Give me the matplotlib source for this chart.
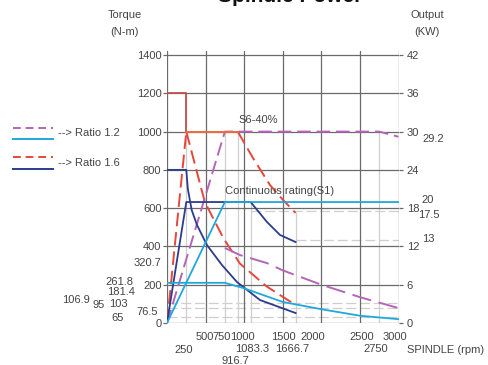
import matplotlib
matplotlib.use("Agg")
import matplotlib.pyplot as plt

plt.rcParams["font.family"] = ["Liberation Sans", "DejaVu Sans"]

W, H = 488, 365

# ratio 1.6, S6 (red dashed): torque and output
r16_s6_torque_rpm = [0, 250, 250]
r16_s6_torque_val = [1200, 1200, 1000]
r16_s6_fall_rpm = [250, 490, 730, 946, 1295, 1666.7]
r16_s6_fall_val = [1000, 632, 444, 310, 190, 94]
r16_s6_out_rise_rpm = [0, 250]
r16_s6_out_rise_val = [0, 1000]
r16_s6_out_flat_rpm = [250, 916.7]
r16_s6_out_flat_val = [1000, 1000]
r16_s6_out_fall_rpm = [916.7, 1114, 1334, 1503, 1666.7]
r16_s6_out_fall_val = [1000, 862, 721, 643, 575]

# ratio 1.6, S1 (dark blue solid)
r16_s1_torque_rpm = [0, 250, 270, 320, 389, 518, 712, 907, 1205, 1666.7]
r16_s1_torque_val = [800, 800, 700, 590, 512, 407, 303, 214, 120, 52]
r16_s1_out_rpm = [0, 250, 1083.3, 1295, 1464, 1666.7]
r16_s1_out_val = [0, 632, 632, 528, 460, 423]

# ratio 1.2, S6 (purple dashed)
r12_s6_out_rpm = [0, 750, 2750, 3000]
r12_s6_out_val = [0, 1000, 1000, 973]
r12_s6_torque_rpm = [750, 946, 1295, 1500, 2000, 2500, 3000]
r12_s6_torque_val = [392, 355, 313, 275, 200, 135, 78]

# ratio 1.2, S1 (cyan solid)
r12_s1_out_rpm = [0, 750, 3000]
r12_s1_out_val = [0, 632, 632]
r12_s1_torque_rpm = [0, 750, 985, 1500, 2000, 2500, 3000]
r12_s1_torque_val = [210, 210, 183, 110, 72, 38, 20]

# faint reference lines
ref_v_rpm = [250, 750, 916.7, 1083.3, 1666.7, 2750]
ref_v_top = [1200, 1000, 1000, 632, 575, 1000]
ref_h_val = [583, 433, 106.9, 76.5, 32]
ref_h_from = [1083.3, 1666.7, 0, 0, 0]

torque_ticks = [0, 200, 400, 600, 800, 1000, 1200, 1400]
output_ticks = [0, 6, 12, 18, 24, 30, 36, 42]
rpm_grid = [0, 500, 1000, 1500, 2000, 2500, 3000]

RED = "#e5483a"
DARK_RED = "#c0504d"
PURPLE = "#b565b8"
CYAN = "#1fa8dc"
NAVY = "#2c3c8c"
GRID = "#6a6a6a"
FAINT = "#cfcfcf"
TXT = "#444444"
FS = 8

fig = plt.figure(figsize=(W / 100, H / 100), dpi=100)
x0, x1, y0, ytop = 167, 398.5, 323, 51.2
ax = fig.add_axes([x0 / W, 1 - y0 / H, (x1 - x0) / W, (y0 - ytop) / H])
ax.set_xlim(0, 3000)
ax.set_ylim(0, 1420)

for v, top in zip(ref_v_rpm, ref_v_top):
    ax.plot([v, v], [0, top], color=FAINT, lw=0.9, zorder=1)
for v, start in zip(ref_h_val, ref_h_from):
    ax.plot([start, 3000], [v, v], color=FAINT, lw=0.9, dashes=(8, 3), zorder=1)

for g in rpm_grid:
    ax.axvline(g, color=GRID, lw=0.9, zorder=1.5)
for t in torque_ticks:
    ax.axhline(t, color=GRID, lw=0.9, zorder=1.5)

dash = (7, 3)
ax.plot(r16_s6_torque_rpm, r16_s6_torque_val, color=DARK_RED, lw=1.3, zorder=3)
ax.plot(r16_s6_fall_rpm, r16_s6_fall_val, color=RED, lw=1.4, dashes=dash, zorder=3)
ax.plot(r16_s6_out_rise_rpm, r16_s6_out_rise_val, color=RED, lw=1.4, dashes=dash, zorder=3)
ax.plot(r12_s6_out_rpm, r12_s6_out_val, color=PURPLE, lw=1.4, dashes=dash, zorder=3)
ax.plot(r16_s6_out_flat_rpm, r16_s6_out_flat_val, color="#ef6a3a", lw=1.4, zorder=3.5)
ax.plot(r16_s6_out_fall_rpm, r16_s6_out_fall_val, color=RED, lw=1.4, dashes=dash, zorder=3)
ax.plot(r12_s6_torque_rpm, r12_s6_torque_val, color=PURPLE, lw=1.4, dashes=(10, 4), zorder=3)

ax.plot(r16_s1_torque_rpm, r16_s1_torque_val, color=NAVY, lw=1.3, zorder=3)
ax.plot(r16_s1_out_rpm, r16_s1_out_val, color=NAVY, lw=1.3, zorder=3)
ax.plot(r12_s1_out_rpm, r12_s1_out_val, color=CYAN, lw=1.3, zorder=3.2)
ax.plot(r12_s1_torque_rpm, r12_s1_torque_val, color=CYAN, lw=1.3, zorder=3.2)

ax.text(1180, 1045, "S6-40%", fontsize=FS, color=TXT, ha="center", zorder=4)
ax.text(1460, 675, "Continuous rating(S1)", fontsize=FS, color=TXT, ha="center", zorder=4)

for s in ax.spines.values():
    s.set_visible(False)
ax.set_xticks([])
ax.set_yticks(torque_ticks)
ax.set_yticklabels([str(t) for t in torque_ticks], fontsize=FS, color=TXT)
ax.tick_params(axis="y", length=3, width=0.9, color=GRID, pad=1)

axr = ax.twinx()
axr.set_ylim(0, 1420 * 0.03)
for s in axr.spines.values():
    s.set_visible(False)
axr.set_yticks(output_ticks)
axr.set_yticklabels([str(t) for t in output_ticks], fontsize=FS, color=TXT)
axr.tick_params(axis="y", length=3, width=0.9, color=GRID, pad=3)


def px(x, y):
    return x / W, 1 - y / H


def label(x, y, s, ha="center", size=FS):
    fig.text(*px(x, y), s, fontsize=size, color=TXT, ha=ha, va="center")


# extra labels on the left
for x, y, s in [(147, 263, "320.7"), (119, 282, "261.8"), (121, 292, "181.4"),
                (76, 300, "106.9"), (99, 305, "95"), (118, 304, "103"),
                (147, 312, "76.5"), (118, 318, "65")]:
    label(x, y, s)

# extra labels on the right
for x, y, s in [(433, 139, "29.2"), (428, 200, "20"), (429, 215, "17.5"), (428, 239, "13")]:
    label(x, y, s)

# rpm labels, three rows
for x, y, s in [(205, 337, "500"), (222, 337, "750"), (242, 337, "1000"), (283, 337, "1500"),
                (313, 337, "2000"), (362, 337, "2500"), (395, 337, "3000"),
                (184, 350, "250"), (252, 349, "1083.3"), (292, 349, "1666.7"), (376, 349, "2750"),
                (235, 361, "916.7")]:
    label(x, y, s)
label(407, 350, "SPINDLE (rpm)", ha="left")

label(125, 15, "Torque")
label(125, 32, "(N-m)")
label(427, 15, "Output")
label(427, 32, "(KW)")

fig.text(*px(290, 2), "Spindle Power", fontsize=15, fontweight="bold", color="#111111",
         ha="center", va="baseline")

# legend drawn by hand at the left
for y, color, style in [(128, PURPLE, "--"), (139, CYAN, "-"), (157, RED, "--"), (169, NAVY, "-")]:
    ln = plt.Line2D([13 / W, 53 / W], [1 - y / H] * 2, transform=fig.transFigure,
                    color=color, lw=1.4, linestyle=style)
    if style == "--":
        ln.set_dashes((4, 2.5))
    fig.add_artist(ln)
label(58, 133, "--> Ratio 1.2", ha="left")
label(58, 163, "--> Ratio 1.6", ha="left")

fig.savefig("out.png", dpi=100)
